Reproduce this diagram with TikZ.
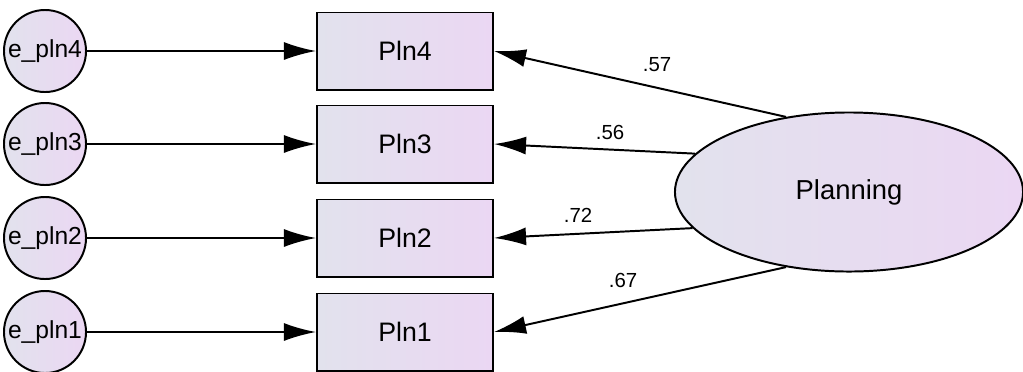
\documentclass[tikz,border=0pt]{standalone}
\usepackage{fontspec}
\setmainfont{Liberation Sans}
\usetikzlibrary{arrows.meta,shapes.geometric}
\definecolor{fillleft}{RGB}{226,226,237}
\definecolor{fillright}{RGB}{235,215,243}
\tikzset{
  obsbox/.style={draw=black, line width=1.4pt, left color=fillleft, right color=fillright,
    minimum width=4.4cm, minimum height=1.925cm, inner sep=0pt,
    font=\fontsize{19}{22}\selectfont},
  errcirc/.style={circle, draw=black, line width=1.4pt, left color=fillleft, right color=fillright,
    minimum size=2.05cm, inner sep=0pt, font=\fontsize{17.5}{20}\selectfont},
  latent/.style={ellipse, draw=black, line width=1.4pt, left color=fillleft, right color=fillright,
    minimum width=8.7cm, minimum height=3.975cm, inner sep=0pt,
    font=\fontsize{19.5}{22}\selectfont},
  regarrow/.style={line width=1.4pt, -{Latex[length=0.8cm,width=0.45cm]}},
  wlabel/.style={font=\fontsize{14.5}{17}\selectfont}
}
\begin{document}
\begin{tikzpicture}[x=0.025cm, y=-0.025cm]
    \useasboundingbox (0,0) rectangle (1023,371);
    % error terms
    \node[errcirc] (e4) at (45, 51) {e\_pln4};
    \node[errcirc] (e3) at (45,144) {e\_pln3};
    \node[errcirc] (e2) at (45,238) {e\_pln2};
    \node[errcirc] (e1) at (45,332) {e\_pln1};
    % indicators
    \node[obsbox] (p4) at (405, 51) {Pln4};
    \node[obsbox] (p3) at (405,144) {Pln3};
    \node[obsbox] (p2) at (405,238) {Pln2};
    \node[obsbox] (p1) at (405,332) {Pln1};
    % factor
    \node[latent] (plan) at (849,192) {Planning};
    \draw[regarrow] (e4) -- (p4);
    \draw[regarrow] (e3) -- (p3);
    \draw[regarrow] (e2) -- (p2);
    \draw[regarrow] (e1) -- (p1);
    \draw[regarrow] (plan.130) -- (p4.east);
    \draw[regarrow] (plan.166) -- (p3.east);
    \draw[regarrow] (plan.193) -- (p2.east);
    \draw[regarrow] (plan.230) -- (p1.east);
    % loadings
    \node[wlabel] (w4) at (657, 65) {.57};
    \node[wlabel] (w3) at (610,132) {.56};
    \node[wlabel] (w2) at (578,215) {.72};
    \node[wlabel] (w1) at (623,280) {.67};
\end{tikzpicture}
\end{document}
